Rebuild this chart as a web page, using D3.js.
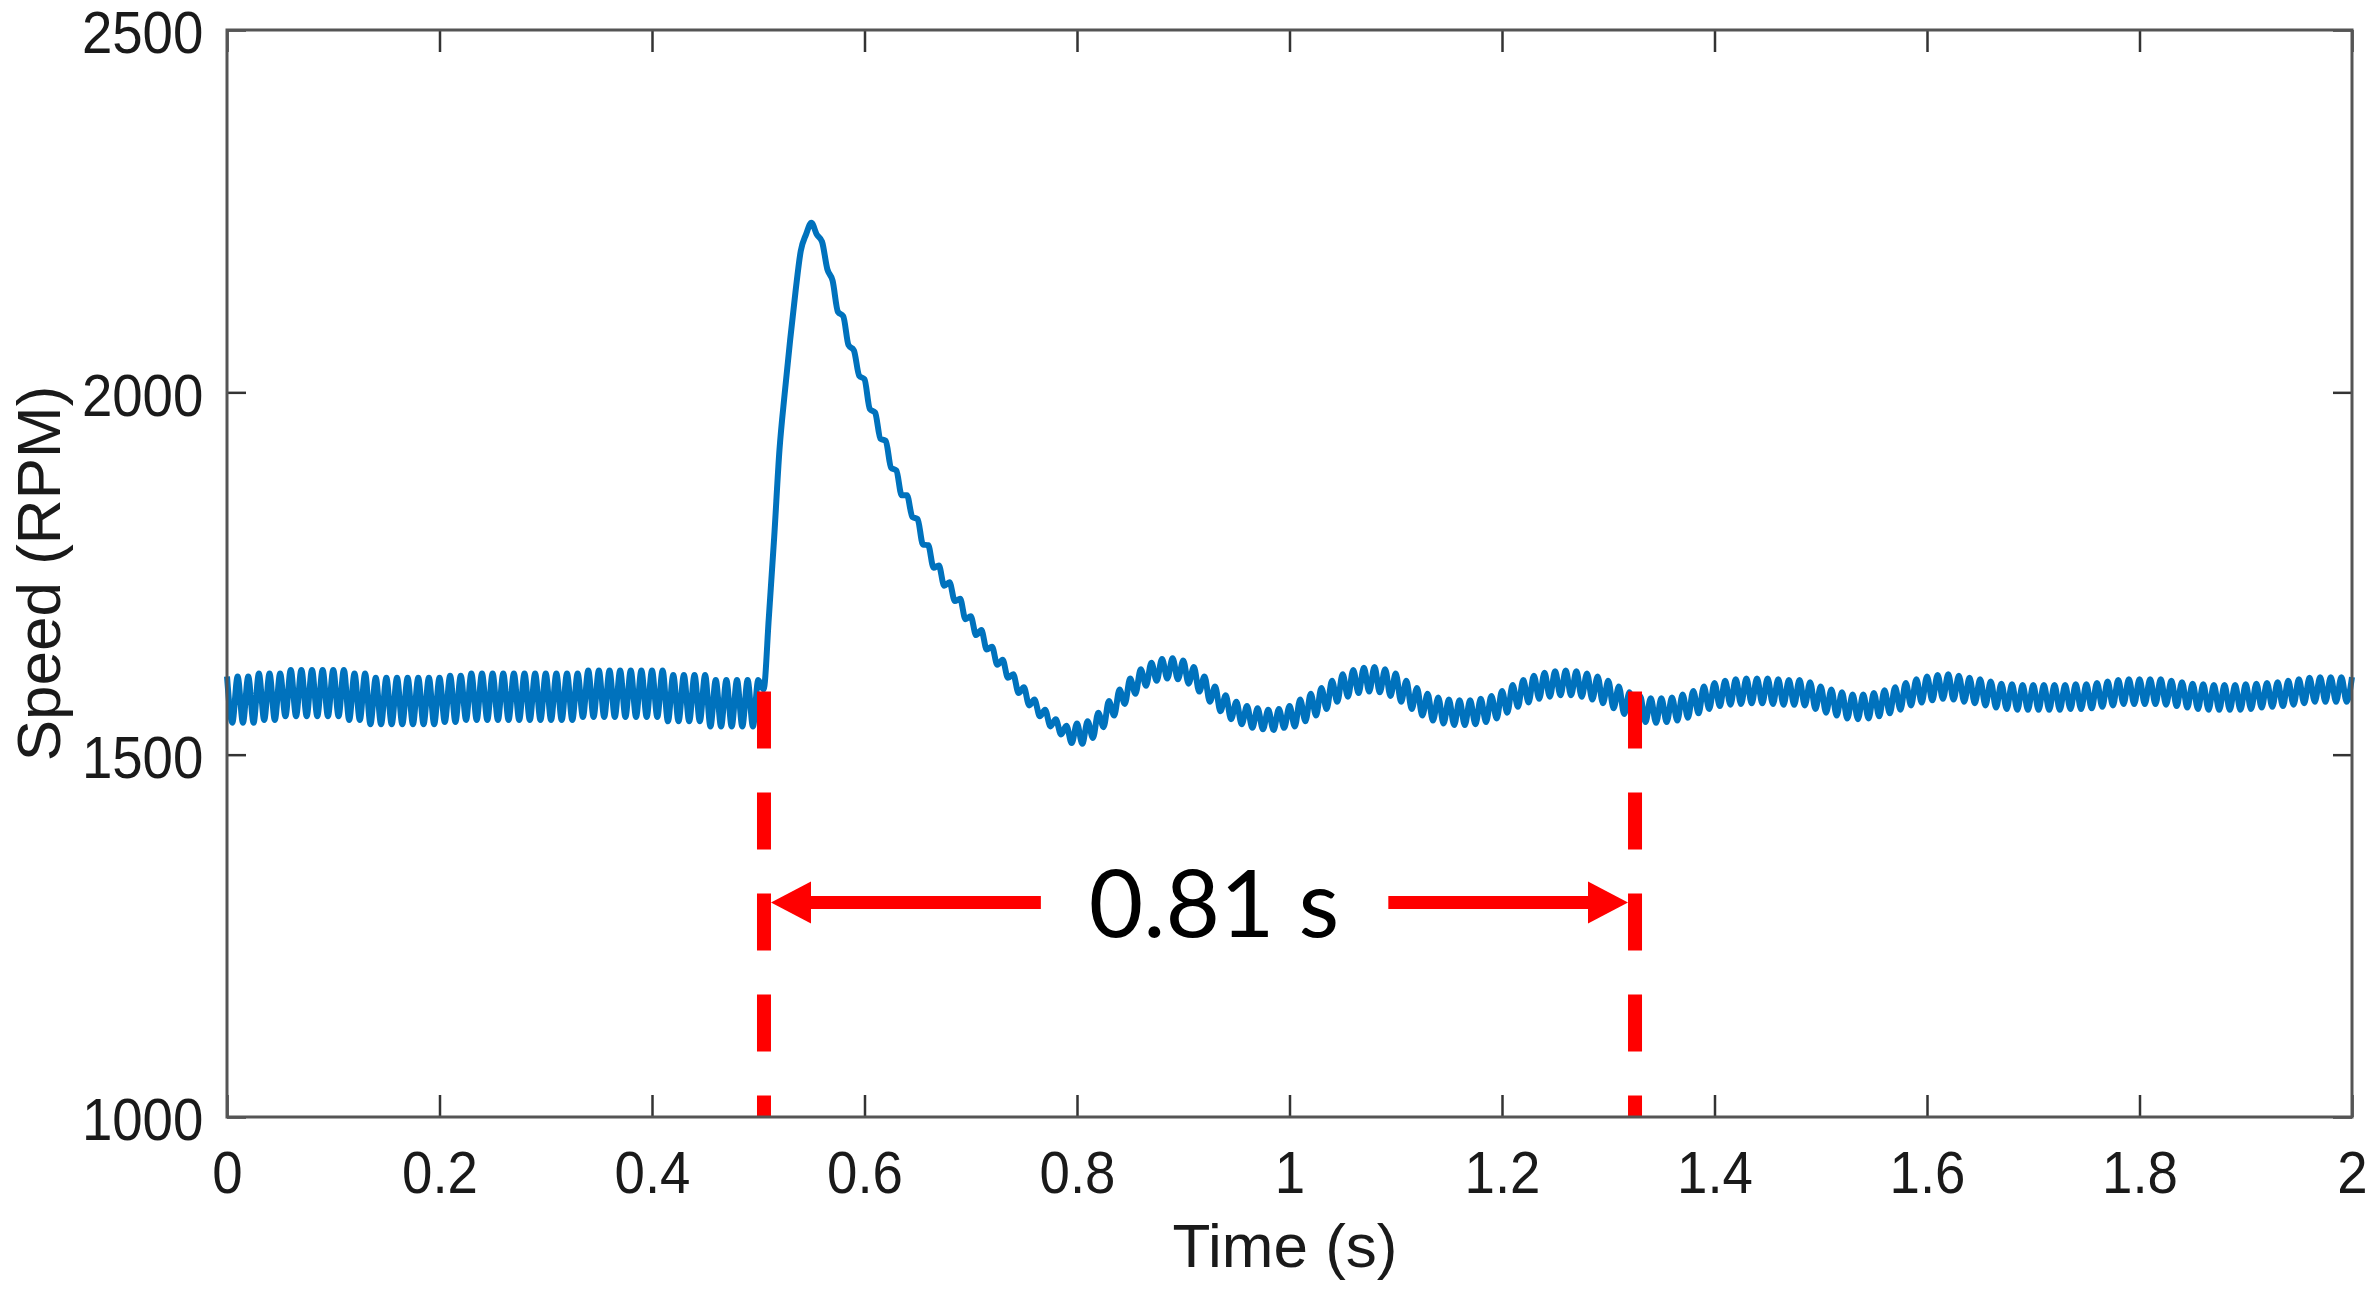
<!DOCTYPE html>
<html>
<head>
<meta charset="utf-8">
<script src="https://cdn.jsdelivr.net/npm/d3@7"></script>
<style>
  html, body { margin: 0; padding: 0; background: #fff; }
  svg { display: block; }
</style>
</head>
<body>
<svg id="chart" width="2374" height="1302"></svg>
<script>
// ---- data ----
const sampleStep = 0.005; // s between samples (alternating ripple crest / trough)
const speed = [
  1608,1544,1608,1544,1608,1544,1612,1548,1612,1548,
  1612,1553,1617,1553,1617,1553,1617,1553,1617,1553,
  1617,1553,1617,1548,1612,1548,1612,1542,1606,1542,
  1606,1542,1606,1542,1606,1542,1606,1542,1606,1542,
  1606,1545,1609,1545,1609,1548,1612,1548,1612,1548,
  1612,1548,1612,1548,1612,1548,1612,1548,1612,1548,
  1612,1548,1612,1548,1612,1548,1612,1552,1616,1552,
  1616,1552,1616,1552,1616,1552,1616,1552,1616,1552,
  1616,1552,1616,1546,1610,1546,1610,1546,1610,1546,
  1610,1539,1603,1539,1603,1539,1603,1539,1603,1539,
  1603,1590,1690,1800,1921,2000,2072,2138,2195,2218,
  2234,2218,2208,2170,2154,2111,2105,2065,2058,2023,
  2018,1977,1972,1936,1933,1896,1892,1858,1858,1828,
  1825,1790,1789,1758,1761,1733,1738,1712,1715,1687,
  1691,1665,1672,1645,1649,1624,1631,1606,1611,1585,
  1593,1568,1576,1553,1562,1539,1549,1528,1540,1516,
  1543,1515,1546,1523,1558,1538,1574,1554,1590,1570,
  1605,1584,1618,1595,1627,1602,1632,1605,1633,1604,
  1630,1598,1621,1587,1608,1573,1594,1560,1582,1549,
  1573,1542,1567,1537,1564,1535,1562,1534,1563,1537,
  1567,1539,1576,1546,1584,1554,1592,1563,1602,1573,
  1611,1580,1617,1585,1620,1587,1621,1586,1618,1581,
  1612,1573,1602,1563,1592,1554,1584,1547,1579,1543,
  1576,1541,1575,1541,1575,1542,1577,1545,1581,1550,
  1588,1558,1596,1566,1603,1572,1609,1577,1613,1580,
  1615,1582,1616,1582,1615,1580,1612,1576,1608,1571,
  1602,1564,1594,1556,1586,1549,1581,1545,1578,1544,
  1578,1545,1579,1547,1583,1551,1588,1557,1594,1563,
  1599,1567,1602,1569,1604,1570,1605,1571,1605,1571,
  1605,1570,1604,1569,1603,1569,1603,1568,1600,1563,
  1594,1558,1590,1554,1586,1550,1583,1549,1583,1550,
  1585,1553,1589,1557,1593,1562,1599,1568,1604,1572,
  1608,1575,1610,1577,1611,1576,1609,1573,1606,1571,
  1604,1568,1601,1565,1598,1563,1597,1562,1596,1562,
  1596,1562,1596,1562,1596,1562,1596,1563,1597,1563,
  1597,1564,1599,1566,1601,1568,1603,1570,1604,1570,
  1604,1570,1604,1570,1604,1569,1602,1567,1600,1565,
  1598,1563,1597,1562,1596,1562,1596,1562,1596,1562,
  1597,1563,1598,1565,1599,1566,1600,1567,1602,1569,
  1604,1571,1606,1573,1607,1573,1607,1573,1607,1573,
  1607
];
const time = speed.map((_, i) => +(i * sampleStep).toFixed(3));

const xTicks = [0, 0.2, 0.4, 0.6, 0.8, 1, 1.2, 1.4, 1.6, 1.8, 2];
const xTickLabels = ["0", "0.2", "0.4", "0.6", "0.8", "1", "1.2", "1.4", "1.6", "1.8", "2"];
const yTicks = [1000, 1500, 2000, 2500];
const yTickLabels = ["1000", "1500", "2000", "2500"];
const xLabel = "Time (s)";
const yLabel = "Speed (RPM)";

// settling-time annotation
const markerTimes = [0.5054, 1.3252];
const markerTopSpeed = 1587;
const arrowSpeed = 1296;
const annotationText = "0.81 s";
const annotationTime = 0.929;
const annotationSpeed = 1248;
const shaftLeftEnd = 0.766;
const shaftRightStart = 1.093;

// ---- layout ----
const W = 2374, H = 1302;
const margin = { left: 227, right: 22, top: 30, bottom: 185 };
const iw = W - margin.left - margin.right;
const ih = H - margin.top - margin.bottom;

const svg = d3.select("#chart");
const g = svg.append("g").attr("transform", `translate(${margin.left},${margin.top})`);

const x = d3.scaleLinear().domain([0, 2]).range([0, iw]);
const y = d3.scaleLinear().domain([1000, 2500]).range([ih, 0]);

// ---- data line ----
const line = d3.line()
  .x((d, i) => x(time[i]))
  .y(d => y(d))
  .curve(d3.curveMonotoneX);

g.append("path")
  .datum(speed)
  .attr("d", line)
  .attr("fill", "none")
  .attr("stroke", "#0072BD")
  .attr("stroke-width", 6)
  .attr("stroke-linejoin", "round");

// ---- annotation ----
const red = "#ff0000";
markerTimes.forEach(t => {
  g.append("line")
    .attr("x1", x(t)).attr("x2", x(t))
    .attr("y1", y(markerTopSpeed)).attr("y2", y(1000))
    .attr("stroke", red)
    .attr("stroke-width", 14)
    .attr("stroke-dasharray", "57 44");
});

const ay = y(arrowSpeed);
const headLen = 40, headHalf = 21, shaftW = 13;
const leftTip = x(markerTimes[0]) + 7;
const rightTip = x(markerTimes[1]) - 7;

g.append("line")
  .attr("x1", leftTip + headLen - 2).attr("x2", x(shaftLeftEnd))
  .attr("y1", ay).attr("y2", ay)
  .attr("stroke", red).attr("stroke-width", shaftW);
g.append("path")
  .attr("d", `M${leftTip},${ay} L${leftTip + headLen},${ay - headHalf} L${leftTip + headLen},${ay + headHalf} Z`)
  .attr("fill", red);

g.append("line")
  .attr("x1", x(shaftRightStart)).attr("x2", rightTip - headLen + 2)
  .attr("y1", ay).attr("y2", ay)
  .attr("stroke", red).attr("stroke-width", shaftW);
g.append("path")
  .attr("d", `M${rightTip},${ay} L${rightTip - headLen},${ay - headHalf} L${rightTip - headLen},${ay + headHalf} Z`)
  .attr("fill", red);

g.append("text")
  .attr("x", x(annotationTime))
  .attr("y", y(annotationSpeed))
  .attr("text-anchor", "middle")
  .attr("font-family", "Lato, 'Open Sans', sans-serif")
  .attr("font-size", 94)
  .attr("fill", "#000")
  .text(annotationText);

// ---- axes ----
const tickColor = "#333";
const fontFam = "'Liberation Sans', Arial, Helvetica, sans-serif";

const xAxis = d3.axisBottom(x).tickValues(xTicks)
  .tickFormat((d, i) => xTickLabels[i])
  .tickSizeInner(-22).tickSizeOuter(0).tickPadding(33);
const gx = g.append("g").attr("transform", `translate(0,${ih})`).call(xAxis);

const yAxis = d3.axisLeft(y).tickValues(yTicks)
  .tickFormat((d, i) => yTickLabels[i])
  .tickSizeInner(-19).tickSizeOuter(0).tickPadding(26);
const gy = g.append("g").call(yAxis);

const xTop = d3.axisTop(x).tickValues(xTicks).tickFormat("")
  .tickSizeInner(-22).tickSizeOuter(0);
const gxt = g.append("g").call(xTop);

const yRight = d3.axisRight(y).tickValues(yTicks).tickFormat("")
  .tickSizeInner(-19).tickSizeOuter(0);
const gyr = g.append("g").attr("transform", `translate(${iw},0)`).call(yRight);

[gx, gy, gxt, gyr].forEach(a => {
  a.select(".domain").remove();
  a.selectAll(".tick line").attr("stroke", tickColor).attr("stroke-width", 2.5);
  a.selectAll(".tick text")
    .attr("font-family", fontFam)
    .attr("font-size", 60)
    .attr("fill", "#1a1a1a")
    .attr("transform", "scale(0.91,1)");
});
gy.selectAll(".tick text").attr("dy", "0.38em");

// box
g.append("rect")
  .attr("x", 0).attr("y", 0)
  .attr("width", iw).attr("height", ih)
  .attr("fill", "none")
  .attr("stroke", "#555")
  .attr("stroke-width", 3);

// axis labels
svg.append("text")
  .attr("x", 1285)
  .attr("y", 1267)
  .attr("text-anchor", "middle")
  .attr("font-family", fontFam)
  .attr("font-size", 62)
  .attr("fill", "#1a1a1a")
  .text(xLabel);

svg.append("text")
  .attr("transform", `translate(60,${margin.top + ih / 2}) rotate(-90)`)
  .attr("text-anchor", "middle")
  .attr("font-family", fontFam)
  .attr("font-size", 62)
  .attr("fill", "#1a1a1a")
  .text(yLabel);
</script>
</body>
</html>
